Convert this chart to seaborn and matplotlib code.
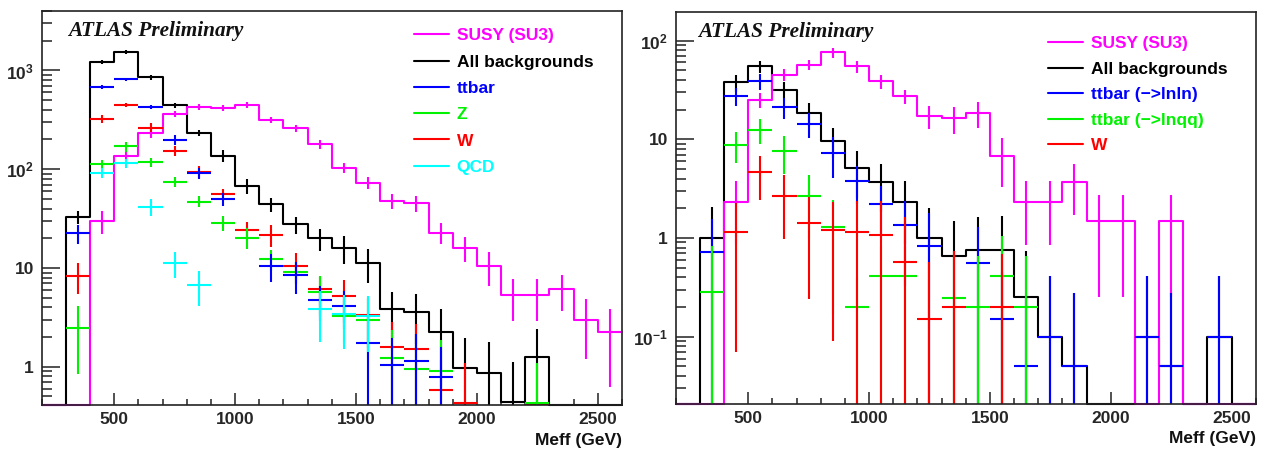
import numpy as np
import pandas as pd
import matplotlib
matplotlib.use("Agg")
import matplotlib.pyplot as plt
from matplotlib.ticker import FuncFormatter, LogLocator, MultipleLocator, NullFormatter
from matplotlib.lines import Line2D
import seaborn as sns

nan = np.nan

# Binning: 100 GeV bins in Meff from 200 to 2600 GeV
bin_edges = np.arange(200, 2700, 100)
bin_centers = bin_edges[:-1] + 50

# ---- Left panel: no-lepton selection ----
susy_l = [0, 0, 30, 136, 235, 363, 430, 418, 445, 316, 260, 180, 104, 73, 48, 45,
          22.8, 16, 10.5, 5.3, 5.3, 6.1, 3.0, 2.23]
susy_l_err = [0, 0, 8, 15, 29, 28, 29, 29, 30, 25, 23, 18, 12, 10, 8, 8,
              5.5, 4.5, 4.0, 2.4, 2.4, 2.4, 1.8, 1.6]
bkg_l = [0, 33, 1230, 1530, 850, 445, 234, 137, 68, 44, 27.7, 20, 16, 11.3, 3.87, 3.6,
         2.23, 0.98, 0.86, 0.44, 1.26, 0, 0, 0]
bkg_l_err = [0, 5, 60, 70, 40, 25, 16, 19, 12, 7, 5.5, 5, 5, 4.3, 1.9, 1.9,
             1.6, 0.96, 0.93, 0.67, 1.15, 0, 0, 0]
ttbar_l = [nan, 22.5, 677, 817, 430, 198, 91, 50, nan, 10.5, 8.4, 4.74, 4.1, 1.75, 1.04, 1.14,
           0.79, nan, nan, nan, nan, nan, nan, nan]
ttbar_l_err = [nan, 4.8, 30, 30, 20, 22, 11, 7.3, nan, 3.3, 3.0, 1.8, 1.7, 1.7, 0.9, 1.0,
               0.8, nan, nan, nan, nan, nan, nan, nan]
z_l = [nan, 2.48, 112, 170, 118, 75, 47, 28.8, 20.3, 12.3, 9.04, 5.75, 3.25, 3.0, 1.22, 0.94,
       0.91, nan, nan, nan, 0.43, nan, nan, nan]
z_l_err = [nan, 1.64, 12, 19, 12, 9, 6, 5, 4.9, 3.0, 2.2, 2.5, 1.5, 1.8, 1.13, 1.0,
           0.95, nan, nan, nan, 0.65, nan, nan, nan]
w_l = [nan, 8.36, 323, 445, 264, 153, 94.6, 56, 24.5, 21.6, 10.5, 6.1, 5.2, 3.34, 1.6, 1.53,
       0.58, 0.43, nan, nan, 0.41, nan, nan, nan]
w_l_err = [nan, 2.9, 30, 20, 28, 18, 13.7, 7.3, 5.0, 5.4, 3.6, 2.0, 2.4, 1.8, 1.26, 1.2,
           0.6, 0.65, nan, nan, 0.6, nan, nan, nan]
qcd_l = [nan, nan, 92, 115, 41.8, 11.3, 6.7, nan, nan, nan, nan, 3.8, 3.4, 3.3, nan, nan,
         nan, nan, nan, nan, nan, nan, nan, nan]
qcd_l_err = [nan, nan, 11, 13, 7.8, 3.3, 2.6, nan, nan, nan, nan, 2.0, 1.9, 1.9, nan, nan,
             nan, nan, nan, nan, nan, nan, nan, nan]

# ---- Right panel: one-lepton selection ----
susy_r = [0, 0, 2.3, 25, 45.2, 57, 76, 54.8, 38.6, 27.2, 17.3, 16.3, 18.5, 6.8, 2.3, 2.3,
          3.66, 1.5, 1.5, 0, 1.5, 0, 0, 0]
susy_r_err = [0, 0, 1.45, 4.2, 6.5, 7, 9, 7.9, 6.4, 4.6, 4.6, 5, 5.4, 3.5, 1.45, 1.45,
              1.97, 1.25, 1.25, 0, 1.25, 0, 0, 0]
bkg_r = [0, 0.99, 37.7, 54.8, 31.8, 18.3, 9.7, 5.07, 3.72, 2.33, 0.99, 0.65, 0.755, 0.755,
         0.254, 0.1, 0.051, 0, 0, 0.1, 0.051, 0, 0.1, 0]
bkg_r_err = [0, 1.05, 7.5, 7.8, 5.9, 4.8, 3.3, 2.5, 1.9, 1.47, 1.0, 0.82, 0.88, 0.93,
             0.49, 0.315, 0.224, 0, 0, 0.315, 0.224, 0, 0.315, 0]
lnln_r = [nan, 0.715, 27.2, 38.6, 21, 14.3, 7.26, 3.8, 2.21, 1.36, 0.835, nan, 0.553, 0.151,
          0.0508, 0.1, 0.051, nan, nan, 0.1, 0.051, nan, 0.1, nan]
lnln_r_err = [nan, 0.84, 5.5, 7.3, 5, 4, 3.2, 1.6, 1.15, 1.03, 0.94, nan, 0.73, 0.3,
              0.2, 0.315, 0.224, nan, nan, 0.315, 0.224, nan, 0.315, nan]
lnqq_r = [nan, 0.281, 8.8, 12.5, 7.67, 2.68, 1.3, 0.2, 0.408, 0.408, nan, 0.244, 0.2, 0.408,
          0.2, nan, nan, nan, nan, nan, nan, nan, nan, nan]
lnqq_r_err = [nan, 0.54, 3.0, 3.5, 3.2, 1.7, 1.13, 0.2, 0.41, 0.41, nan, 0.5, 0.46, 0.65,
              0.46, nan, nan, nan, nan, nan, nan, nan, nan, nan]
w_r = [nan, nan, 1.16, 4.62, 2.68, 1.42, 1.2, 1.16, 1.08, 0.566, 0.151, 0.2, nan, 0.2,
       nan, nan, nan, nan, nan, nan, nan, nan, nan, nan]
w_r_err = [nan, nan, 1.09, 2.2, 1.7, 1.18, 1.11, 1.2, 1.3, 1.05, 0.415, 0.54, nan, 0.49,
           nan, nan, nan, nan, nan, nan, nan, nan, nan, nan]

MAGENTA, BLACK, BLUE, GREEN, RED, CYAN = "#ff00ff", "#000000", "#0000ff", "#00f200", "#ff0000", "#00ffff"

sns.set_theme(style="white")
plt.rcParams["font.family"] = ["Liberation Sans", "DejaVu Sans"]
plt.rcParams["font.weight"] = "bold"
plt.rcParams["mathtext.fontset"] = "custom"
plt.rcParams["mathtext.rm"] = "Liberation Sans:bold"
plt.rcParams["mathtext.bf"] = "Liberation Sans:bold"
plt.rcParams["mathtext.it"] = "Liberation Sans:bold"

LW = 1.5
FS = 12.5

fig = plt.figure(figsize=(12.79, 4.51), dpi=100)
ax_l = fig.add_axes([41.7 / 1279, 46 / 451, 580.3 / 1279, 394 / 451])
ax_r = fig.add_axes([675.7 / 1279, 47 / 451, 580 / 1279, 392.3 / 451])


def draw_hist(ax, vals, errs, color, ylo):
    vals = np.asarray(vals, float)
    errs = np.asarray(errs, float)
    # empty bins are drawn along the lower frame, as ROOT does on a log axis
    frame = pd.DataFrame({"meff": bin_centers, "events": np.clip(vals, ylo, None)})
    n_before = len(ax.lines)
    sns.histplot(data=frame, x="meff", weights="events", bins=list(bin_edges),
                 element="step", fill=False, color=color, linewidth=LW, ax=ax)
    for ln in ax.lines[n_before:]:
        ln.set_clip_on(False)
    m = vals > 0
    lo = np.where(vals[m] - errs[m] > 0, errs[m], vals[m] - ylo * 0.1)
    ax.errorbar(bin_centers[m], vals[m], yerr=[lo, errs[m]], fmt="none",
                ecolor=color, elinewidth=LW, capsize=0)


def draw_points(ax, vals, errs, color, ylo):
    vals = np.asarray(vals, float)
    errs = np.asarray(errs, float)
    m = np.isfinite(vals)
    lo = np.where(vals[m] - errs[m] > 0, errs[m], vals[m] - ylo * 0.1)
    ax.errorbar(bin_centers[m], vals[m], xerr=50, yerr=[lo, errs[m]], fmt="none",
                ecolor=color, elinewidth=LW, capsize=0)


def log_label(v, pos):
    if v <= 0:
        return ""
    e = int(round(np.log10(v)))
    if e == 0:
        return "1"
    if e == 1:
        return "10"
    return r"$\mathbf{10^{%d}}$" % e


def style_axes(ax, ylim):
    ax.set_yscale("log")
    ax.set_xlim(200, 2600)
    ax.set_ylim(*ylim)
    ax.set_xlabel("")
    ax.set_ylabel("")
    ax.xaxis.set_major_locator(MultipleLocator(500))
    ax.xaxis.set_minor_locator(MultipleLocator(100))
    ax.yaxis.set_major_locator(LogLocator(base=10))
    ax.yaxis.set_minor_locator(LogLocator(base=10, subs=np.arange(2, 10)))
    ax.yaxis.set_major_formatter(FuncFormatter(log_label))
    ax.yaxis.set_minor_formatter(NullFormatter())
    ax.tick_params(axis="y", which="major", direction="in", length=13.2, width=1.1,
                   color="#222222", labelsize=FS, pad=5.5, left=True, right=False)
    ax.tick_params(axis="y", which="minor", direction="in", length=7.2, width=1.1,
                   color="#222222", left=True, right=False)
    ax.tick_params(axis="x", which="major", direction="in", length=8.4, width=1.1,
                   color="#222222", labelsize=FS, pad=5, bottom=True, top=False)
    ax.tick_params(axis="x", which="minor", direction="in", length=4.1, width=1.1,
                   color="#222222", bottom=True, top=False)
    for lab in ax.get_xticklabels() + ax.get_yticklabels():
        lab.set_fontweight("bold")
    for sp in ax.spines.values():
        sp.set_visible(True)
        sp.set_color("#222222")
        sp.set_linewidth(1.2)
    ax.text(1.0, -0.089, "Meff (GeV)", transform=ax.transAxes, ha="right", va="center",
            fontsize=FS, fontweight="bold", color="#111111")


def add_legend(ax, entries, anchor, spacing):
    handles = [Line2D([], [], color=c, lw=LW) for _, c in entries]
    leg = ax.legend(handles, [t for t, _ in entries], loc="upper left",
                    bbox_to_anchor=anchor, frameon=False, fontsize=FS,
                    handlelength=2.0, handletextpad=0.45, labelspacing=spacing,
                    borderpad=0, borderaxespad=0)
    for txt, (_, c) in zip(leg.get_texts(), entries):
        txt.set_color(c)
        txt.set_fontweight("bold")


# ---- Left panel ----
ylo_l = 0.41
draw_hist(ax_l, bkg_l, bkg_l_err, BLACK, ylo_l)
draw_hist(ax_l, susy_l, susy_l_err, MAGENTA, ylo_l)
draw_points(ax_l, w_l, w_l_err, RED, ylo_l)
draw_points(ax_l, z_l, z_l_err, GREEN, ylo_l)
draw_points(ax_l, ttbar_l, ttbar_l_err, BLUE, ylo_l)
draw_points(ax_l, qcd_l, qcd_l_err, CYAN, ylo_l)
style_axes(ax_l, (ylo_l, 4000))
ax_l.text(0.045, 0.948, "ATLAS Preliminary", transform=ax_l.transAxes, ha="left",
          va="center", fontsize=15.3, fontweight="bold", fontstyle="italic",
          family="Liberation Serif", color="#111111")
add_legend(ax_l, [("SUSY (SU3)", MAGENTA), ("All backgrounds", BLACK), ("ttbar", BLUE),
                  ("Z", GREEN), ("W", RED), ("QCD", CYAN)], (0.6416, 0.956), 0.64)

# ---- Right panel ----
ylo_r = 0.0208
draw_hist(ax_r, bkg_r, bkg_r_err, BLACK, ylo_r)
draw_hist(ax_r, susy_r, susy_r_err, MAGENTA, ylo_r)
draw_points(ax_r, lnln_r, lnln_r_err, BLUE, ylo_r)
draw_points(ax_r, lnqq_r, lnqq_r_err, GREEN, ylo_r)
draw_points(ax_r, w_r, w_r_err, RED, ylo_r)
style_axes(ax_r, (ylo_r, 196))
ax_r.text(0.038, 0.949, "ATLAS Preliminary", transform=ax_r.transAxes, ha="left",
          va="center", fontsize=15.3, fontweight="bold", fontstyle="italic",
          family="Liberation Serif", color="#111111")
add_legend(ax_r, [("SUSY (SU3)", MAGENTA), ("All backgrounds", BLACK),
                  ("ttbar (\u2212>lnln)", BLUE), ("ttbar (\u2212>lnqq)", GREEN),
                  ("W", RED)], (0.642, 0.938), 0.6)

fig.savefig("out.png", dpi=100, facecolor="white")
